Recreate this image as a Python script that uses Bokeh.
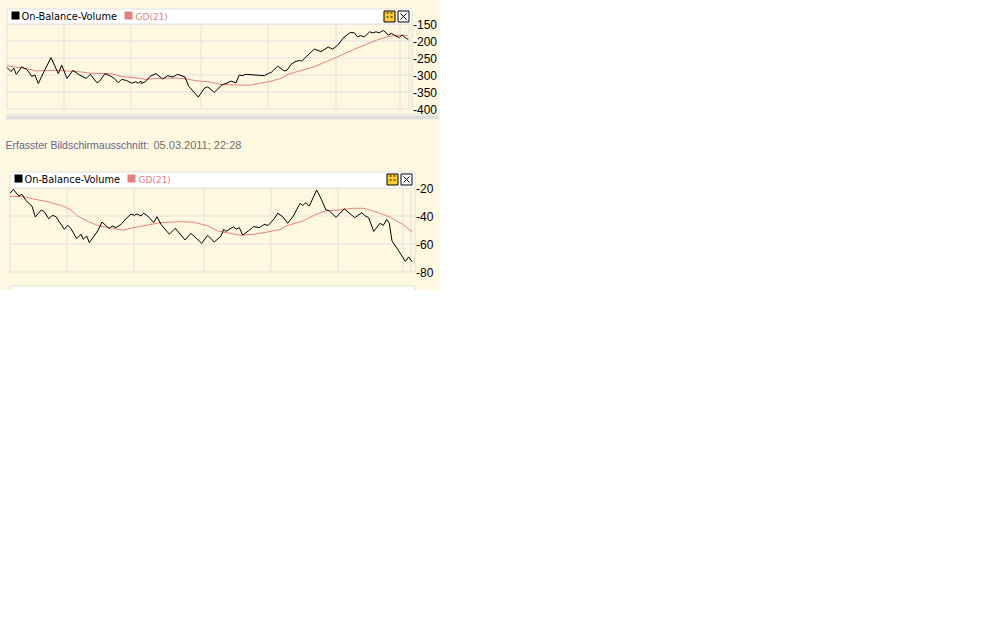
from bokeh.plotting import figure
from bokeh.models import Range1d, FixedTicker, LinearAxis
from bokeh.core.properties import value
from bokeh.embed import file_html
from bokeh.resources import INLINE

LEGEND_OBV = "On-Balance-Volume"
LEGEND_GD = "GD(21)"
CAPTION_HEAD = "Erfasster Bildschirmausschnitt:"
CAPTION_DATE = "05.03.2011; 22:28"

# upper chart
obv1_t = [0,4,6.7,9.3,14.7,20,24.7,28,31.3,37.3,44,51.3,54.7,60,66,71.3,79.3,83.3,90,92.7,98,104,107.3,111.3,114.7,119.3,124.7,128.7,131.3,134,
          134.3,138.3,143,149,155.7,160.7,165.7,170.7,178,181.7,191.3,197.3,200.7,207.3,215,219,224,229,232.3,235,239,257.3,262.3,264,270.7,277.3,280,284,288,292.3,294.7,300,307.3,314,321.3,325.7,330.7,337.3,343.3,347.3,350.7,353.3,357.3,362.7,365.7,369,372.3,376.3,381.3,384.7,388,392.3,395,397.3,401.3]
obv1_v = [-278,-290,-280,-298,-276,-284,-304,-300,-325,-288,-249,-296,-271,-310,-286,-298,-310,-298,-323,-318,-296,-304,-310,-323,-313,-316,-324,-320,-324,-318,
          -325,-320,-304,-296,-312,-302,-306,-298,-306,-333,-365,-339,-335,-351,-329,-325,-318,-323,-300,-302,-298,-302,-294,-293,-274,-288,-286,-269,-261,-257,-259,-244,-224,-231,-218,-224,-212,-188,-175,-176,-188,-184,-188,-173,-176,-173,-176,-169,-182,-178,-184,-190,-182,-188,-196]
gd1_t = [0,4,14,24,29,49,59,74,84,104,114,134,139,149,169,179,189,202,214,242,252,264,274,281,307,327,347,369,381,391,401]
gd1_v = [-272,-275,-279,-284,-288,-286,-288,-291,-295,-296,-304,-310,-313,-310,-309,-311,-317,-320,-328,-330,-325,-318,-310,-298,-276,-251,-225,-198,-187,-183,-184]
ticks1 = [-150,-200,-250,-300,-350,-400]
grid1 = [57,124,194,261,329,393,402]

# lower chart
obv2_t = [0,3.3,8.7,12,16,22,25.3,31.3,34.3,38.7,42.7,46,54.3,57.7,61,66.7,71,73.3,76.7,79.3,87.7,92,99.3,102,106,111,116,121,124.3,127,131,133.7,137.7,143.7,147,151,159.3,165.3,175,181,191.7,197.7,204.3,211,213.7,216,223.7,226,229.3,232.7,238.3,243.7,249.3,254.3,258.3,264.3,267.7,272.7,277.7,283.3,290,292.7,296,299.3,306.7,311,316,319.3,326,334.3,344.7,352,354.3,358.7,363.7,370,373.3,376.7,379.3,382,387.7,395.3,398.7,402]
obv2_v = [-23.8,-21,-25.7,-24.5,-29,-33,-40.7,-35.7,-37,-41.9,-39.5,-40.5,-49.5,-46.7,-49,-56.2,-53,-56.6,-54.3,-59,-50.7,-44.3,-49,-47,-48.3,-46,-41.9,-38.6,-39.5,-38.6,-40,-38,-40,-44.7,-40.5,-46,-53,-48.8,-57.1,-52.4,-59.5,-53.8,-58.6,-54.3,-49.5,-51,-47.6,-49.5,-48.3,-53.6,-50.7,-47.6,-48.3,-46,-46.7,-41.9,-38,-40.5,-45.2,-40,-31,-32.4,-30.5,-32.9,-21.4,-27.6,-35.7,-36.2,-41,-34.8,-41.2,-37.6,-39.5,-41.2,-51,-45.2,-46.7,-42.4,-45.2,-57.8,-63.8,-72.4,-69.3,-72.6]
gd2_t = [0,12.7,24.3,36,52.7,61,67.7,79.3,89.3,102.7,112.7,119.3,129.3,141,151,172.7,184.3,197.7,207.7,231,244.3,257.7,271,276,292.7,306,316,329.3,342.7,354.3,366,379.3,392.7,402]
gd2_v = [-26,-26,-28,-29.5,-32.8,-35.7,-40,-44.3,-47.1,-48.8,-50.2,-49,-47.6,-46,-44.7,-44,-44.5,-47.1,-50.7,-53.8,-53,-51.4,-49.5,-47.1,-43.6,-38.8,-36.4,-35.7,-34.5,-34.5,-37.1,-40.5,-46,-51.2]
ticks2 = [-20,-40,-60,-80]
grid2 = [57,124,194,261,328,393,401]

W, H = 440, 290
CREAM = "#fff8e1"
GRID = "#e0e0e0"
BLACK = "#000000"
RED = "#e58080"
FONT = value("DejaVu Sans")

p = figure(width=W, height=H, output_backend="svg", toolbar_location=None,
           x_range=Range1d(0, W), y_range=Range1d(H, 0),
           x_axis_location=None, y_axis_location=None,
           min_border=0, min_border_left=0, min_border_right=0,
           min_border_top=0, min_border_bottom=0,
           background_fill_color=CREAM, border_fill_color=CREAM, outline_line_color=None)
p.xgrid.visible = False
p.ygrid.visible = False


def quad(l, t, r, b, fill, line=None):
    p.quad(left=[l], right=[r], top=[t], bottom=[b], fill_color=fill,
           line_color=line, line_width=1)


def txt(x, y, s, color, size, font=FONT):
    p.text(x=[x], y=[y], text=[s], text_color=color, text_font=font,
           text_font_size=size, text_baseline="middle", text_align="left")


def chart(name, left, right, top, bottom, vtop, vbot, ticks, grid, tval, oval, tgd, vgd):
    # each chart has its own scales, mapped so the plot area lands on the wanted pixels
    L, T, R, B = left + .5, top + .5, right + .5, bottom + .5
    k = (vtop - vbot) / (B - T)
    p.extra_x_ranges[name] = Range1d(-L, W - L)
    p.extra_y_ranges[name] = Range1d(vtop - (H - T) * k, vtop + T * k)
    kw = dict(x_range_name=name, y_range_name=name)
    xmax = right - left
    p.segment(x0=[0] * len(ticks), x1=[xmax] * len(ticks), y0=ticks, y1=ticks,
              line_color=GRID, line_width=1, **kw)
    p.segment(x0=grid, x1=grid, y0=[vbot] * len(grid), y1=[vtop] * len(grid),
              line_color=GRID, line_width=1, **kw)
    p.segment(x0=[0, xmax], x1=[0, xmax], y0=[vbot] * 2, y1=[vtop] * 2,
              line_color=GRID, line_width=1, **kw)
    p.line(tgd, vgd, line_color=RED, line_width=1, **kw)
    p.line(tval, oval, line_color=BLACK, line_width=1, **kw)
    ax = LinearAxis(ticker=FixedTicker(ticks=ticks), axis_line_color=None,
                    major_tick_line_color=None, minor_tick_line_color=None,
                    major_label_overrides={t: str(t) for t in ticks},
                    major_label_text_font="Liberation Sans",
                    major_label_text_font_size="12px",
                    major_label_text_color=BLACK, major_label_standoff=2,
                    fixed_location=xmax - 7, **kw)
    p.add_layout(ax, "right")


def header(l, t, r, b):
    quad(l + .5, t + .5, r + .5, b + .5, "#ffffff", GRID)
    tx = l + 5
    quad(tx, t + 3, tx + 8, t + 11, BLACK)
    txt(tx + 10, t + 8, LEGEND_OBV, BLACK, "9.8px")
    quad(tx + 113, t + 3, tx + 121, t + 11, RED)
    txt(tx + 124, t + 8, LEGEND_GD, RED, "9px")
    a = r - 28
    quad(a + .5, t + 2.5, a + 11.5, t + 13.5, "#ffcc33", BLACK)
    for dx, dy in [(3, 4), (7, 4), (3, 8), (7, 8)]:
        quad(a + dx, t + dy, a + dx + 2, t + dy + 1, BLACK)
    c = r - 14
    quad(c + .5, t + 2.5, c + 11.5, t + 13.5, "#ffffff", BLACK)
    p.segment(x0=[c + 3, c + 9], x1=[c + 9, c + 3], y0=[t + 5, t + 5], y1=[t + 11, t + 11],
              line_color=BLACK, line_width=1)


chart("c1", 6, 411, 23, 108, -150, -400, ticks1, grid1, obv1_t, obv1_v, gd1_t, gd1_v)
header(6, 8, 411, 23)
quad(6, 113, 438, 114, GRID)
quad(6, 115, 438, 119, "#dedede")

txt(5, 144, CAPTION_HEAD, "#64648c", "10.5px", value("Liberation Sans"))
txt(153, 144, CAPTION_DATE, "#6e6e6e", "11px", value("Liberation Sans"))

chart("c2", 9, 414, 187, 271, -20, -80, ticks2, grid2, obv2_t, obv2_v, gd2_t, gd2_v)
header(9, 171, 414, 187)
quad(9.5, 285.5, 414.5, 295, "#fffef8", GRID)

open("out.html", "w").write(file_html(p, INLINE))
